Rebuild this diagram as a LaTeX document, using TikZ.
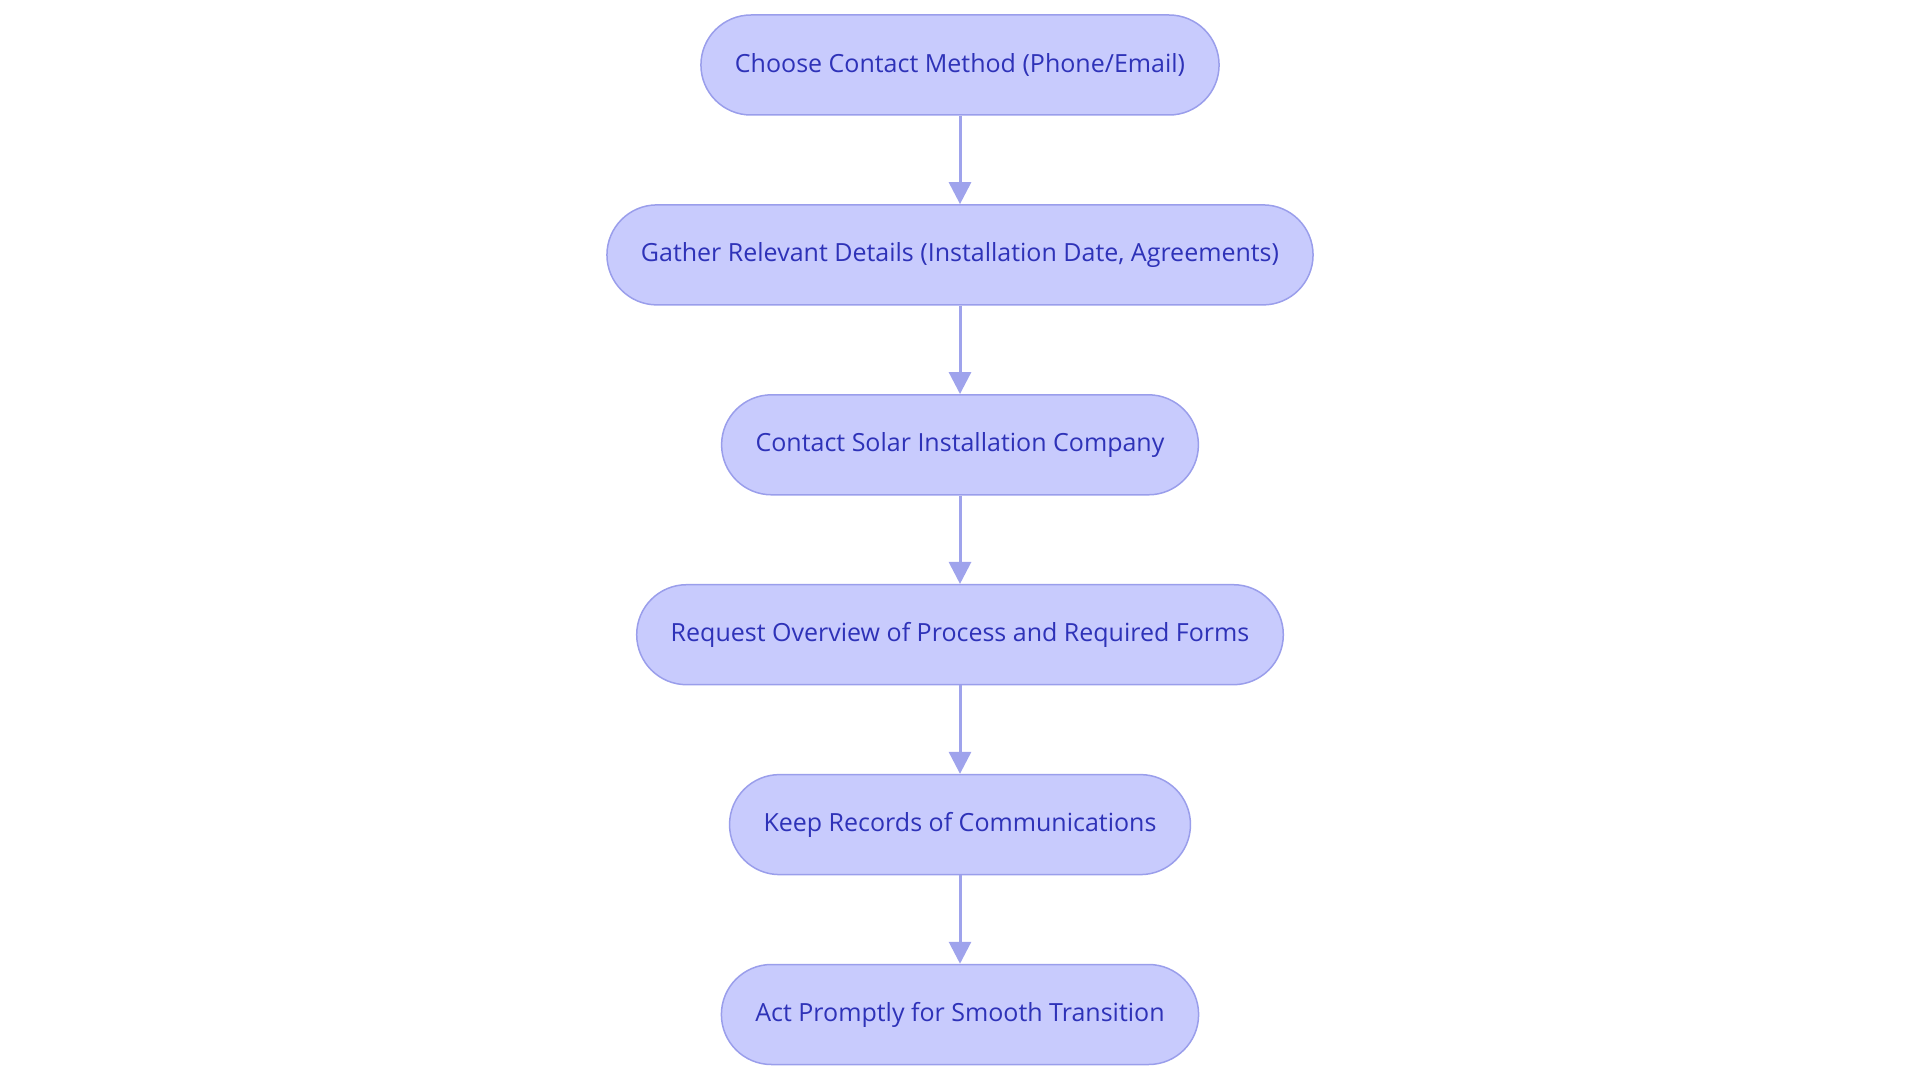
\documentclass[tikz,border=0pt]{standalone}
\usepackage{fontspec}
\setmainfont{Open Sans}
\usetikzlibrary{positioning,arrows.meta}

\definecolor{stepfill}{HTML}{C8CBFD}
\definecolor{stepdraw}{HTML}{9A9EEB}
\definecolor{steptext}{HTML}{2E32B8}
\definecolor{arrowcol}{HTML}{9FA3EC}

\begin{document}
\begin{tikzpicture}
[
    x=1pt, y=1pt,
    node distance=88.4pt,
    stepbox/.style={draw=stepdraw, fill=stepfill, line width=1.5pt,
        rounded corners=50pt, minimum height=100pt, inner xsep=34pt,
        text=steptext, font=\fontsize{25}{30}\selectfont},
    flow/.style={draw=arrowcol, line width=3pt,
        -{Triangle[length=22pt, width=22pt]}},
]
\useasboundingbox (0,0) rectangle (1920,-1083);
\node [stepbox] (contact) at (960,-65) {Choose Contact Method (Phone/Email)};
\node [stepbox, below=of contact] (gather) {Gather Relevant Details (Installation Date, Agreements)};
\node [stepbox, below=of gather] (company) {Contact Solar Installation Company};
\node [stepbox, below=of company] (overview) {Request Overview of Process and Required Forms};
\node [stepbox, below=of overview] (records) {Keep Records of Communications};
\node [stepbox, below=of records] (prompt) {Act Promptly for Smooth Transition};

\draw [flow] (contact) -- (gather);
\draw [flow] (gather) -- (company);
\draw [flow] (company) -- (overview);
\draw [flow] (overview) -- (records);
\draw [flow] (records) -- (prompt);
\end{tikzpicture}
\end{document}
